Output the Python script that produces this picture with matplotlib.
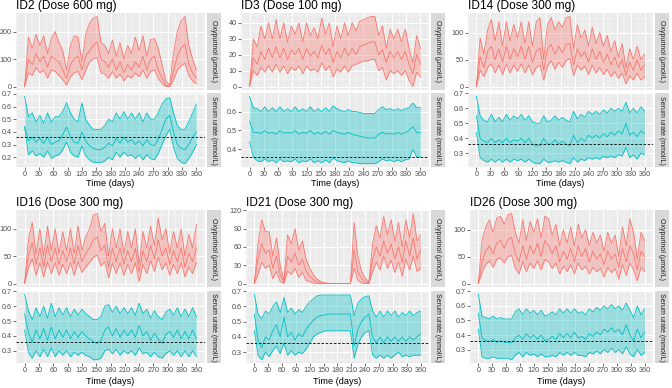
import numpy as np
import matplotlib.pyplot as plt
from matplotlib.ticker import MultipleLocator

plt.rcParams['font.family'] = ['Liberation Sans', 'DejaVu Sans']

# time grid (days)
days = list(range(0, 361, 8))

# ---- ID2 (600 mg) ----
id2_oxy_med = [0, 100, 80, 120, 90, 110, 70, 110, 100, 90,
               60, 30, 80, 100, 110, 60, 110, 130, 150, 162,
               100, 90, 70, 100, 60, 90, 50, 80, 60, 90,
               70, 110, 60, 100, 110, 60, 30, 5, 0, 55,
               110, 140, 155, 80, 50, 30]
id2_oxy_hi = [0, 180, 140, 190, 150, 185, 120, 175, 200, 160,
              130, 60, 150, 185, 180, 90, 190, 230, 250, 255,
              160, 150, 120, 170, 110, 160, 100, 150, 120, 180,
              130, 185, 110, 170, 175, 140, 80, 20, 5, 120,
              200, 240, 255, 150, 100, 60]
id2_oxy_lo = [0, 50, 40, 70, 50, 60, 30, 60, 55, 40,
              25, 5, 35, 50, 55, 25, 60, 90, 100, 105,
              50, 45, 30, 55, 30, 45, 20, 40, 30, 50,
              35, 60, 30, 55, 60, 30, 10, 0, 0, 25,
              60, 75, 85, 40, 20, 10]
id2_ur_med = [0.44, 0.33, 0.36, 0.32, 0.35, 0.31, 0.36, 0.30, 0.32, 0.33,
              0.38, 0.44, 0.36, 0.32, 0.31, 0.40, 0.33, 0.29, 0.27, 0.26,
              0.26, 0.28, 0.31, 0.29, 0.35, 0.31, 0.36, 0.32, 0.34, 0.30,
              0.33, 0.29, 0.34, 0.30, 0.29, 0.34, 0.42, 0.50, 0.53, 0.40,
              0.30, 0.27, 0.26, 0.30, 0.36, 0.40]
id2_ur_hi = [0.68, 0.52, 0.55, 0.48, 0.53, 0.47, 0.55, 0.48, 0.52, 0.52,
             0.56, 0.63, 0.55, 0.50, 0.48, 0.63, 0.50, 0.45, 0.42, 0.42,
             0.42, 0.45, 0.50, 0.48, 0.55, 0.50, 0.56, 0.50, 0.55, 0.50,
             0.55, 0.48, 0.55, 0.50, 0.50, 0.55, 0.62, 0.66, 0.67, 0.55,
             0.45, 0.42, 0.42, 0.48, 0.55, 0.62]
id2_ur_lo = [0.44, 0.22, 0.25, 0.21, 0.23, 0.20, 0.25, 0.19, 0.21, 0.22,
             0.26, 0.32, 0.24, 0.21, 0.20, 0.29, 0.21, 0.18, 0.16, 0.16,
             0.16, 0.17, 0.20, 0.18, 0.24, 0.20, 0.24, 0.21, 0.22, 0.19,
             0.22, 0.18, 0.22, 0.19, 0.18, 0.23, 0.30, 0.37, 0.42, 0.28,
             0.19, 0.16, 0.15, 0.19, 0.24, 0.30]

# ---- ID3 (100 mg) ----
id3_oxy_med = [0, 18, 14, 22, 17, 24, 18, 25, 18, 24,
               17, 23, 20, 24, 17, 24, 19, 22, 18, 26,
               20, 24, 15, 22, 18, 24, 19, 24, 20, 25,
               26, 27, 28, 28, 20, 23, 15, 22, 18, 22,
               17, 22, 14, 8, 20, 14]
id3_oxy_hi = [0, 30, 25, 38, 30, 40, 30, 42, 30, 40,
              28, 38, 33, 40, 28, 40, 32, 37, 30, 43,
              33, 40, 25, 38, 30, 40, 32, 40, 35, 41,
              42, 43, 44, 44, 32, 38, 24, 36, 30, 36,
              28, 36, 24, 15, 32, 24]
id3_oxy_lo = [0, 10, 7, 12, 9, 13, 9, 14, 9, 13,
              8, 12, 10, 13, 8, 13, 10, 11, 9, 15,
              10, 13, 6, 11, 9, 13, 9, 13, 14, 15,
              16, 16, 17, 17, 10, 12, 4, 10, 8, 10,
              7, 10, 4, 0, 9, 6]
id3_ur_med = [0.55, 0.49, 0.49, 0.485, 0.50, 0.485, 0.49, 0.48, 0.50, 0.485,
              0.49, 0.485, 0.50, 0.48, 0.49, 0.485, 0.50, 0.48, 0.49, 0.48,
              0.495, 0.48, 0.50, 0.49, 0.485, 0.48, 0.49, 0.48, 0.475, 0.47,
              0.465, 0.46, 0.46, 0.46, 0.48, 0.49, 0.48, 0.485, 0.48, 0.49,
              0.48, 0.49, 0.50, 0.52, 0.49, 0.49]
id3_ur_hi = [0.68, 0.62, 0.615, 0.60, 0.625, 0.60, 0.62, 0.60, 0.625, 0.60,
             0.615, 0.60, 0.625, 0.60, 0.615, 0.60, 0.625, 0.60, 0.615, 0.60,
             0.62, 0.60, 0.63, 0.615, 0.605, 0.60, 0.61, 0.60, 0.60, 0.595,
             0.59, 0.59, 0.59, 0.59, 0.61, 0.625, 0.61, 0.615, 0.605, 0.615,
             0.605, 0.615, 0.62, 0.645, 0.62, 0.62]
id3_ur_lo = [0.44, 0.36, 0.34, 0.335, 0.35, 0.335, 0.345, 0.33, 0.35, 0.335,
             0.34, 0.335, 0.35, 0.33, 0.34, 0.335, 0.35, 0.33, 0.34, 0.33,
             0.345, 0.33, 0.355, 0.34, 0.335, 0.33, 0.34, 0.33, 0.33, 0.325,
             0.325, 0.325, 0.325, 0.325, 0.335, 0.35, 0.34, 0.345, 0.335, 0.345,
             0.335, 0.345, 0.35, 0.40, 0.36, 0.36]

# ---- ID14 (300 mg) ----
id14_oxy_med = [0, 55, 35, 65, 75, 50, 70, 45, 75, 50,
                70, 55, 75, 50, 75, 45, 65, 72, 30, 70,
                78, 60, 75, 62, 78, 80, 40, 70, 55, 65,
                45, 70, 50, 65, 45, 60, 40, 55, 35, 50,
                20, 45, 30, 50, 30, 40]
id14_oxy_hi = [0, 90, 60, 105, 125, 85, 120, 75, 120, 85,
               115, 90, 120, 80, 120, 75, 120, 128, 50, 115,
               128, 105, 120, 110, 128, 130, 70, 115, 90, 105,
               75, 110, 80, 100, 75, 95, 65, 85, 55, 80,
               35, 70, 50, 75, 50, 60]
id14_oxy_lo = [0, 30, 18, 35, 42, 25, 40, 22, 42, 25,
               40, 28, 42, 25, 40, 22, 35, 40, 12, 38,
               48, 32, 45, 35, 48, 52, 20, 40, 30, 38,
               22, 40, 25, 35, 22, 32, 18, 28, 15, 25,
               5, 20, 12, 25, 12, 18]
id14_ur_med = [0.55, 0.40, 0.38, 0.37, 0.40, 0.37, 0.39, 0.37, 0.40, 0.37,
               0.39, 0.38, 0.40, 0.37, 0.40, 0.36, 0.35, 0.35, 0.40, 0.36,
               0.36, 0.39, 0.36, 0.38, 0.36, 0.35, 0.42, 0.37, 0.40, 0.38,
               0.42, 0.40, 0.42, 0.40, 0.43, 0.41, 0.44, 0.42, 0.45, 0.43,
               0.50, 0.42, 0.44, 0.41, 0.45, 0.43]
id14_ur_hi = [0.68, 0.55, 0.52, 0.51, 0.56, 0.51, 0.54, 0.51, 0.56, 0.52,
              0.55, 0.53, 0.56, 0.52, 0.55, 0.51, 0.50, 0.50, 0.55, 0.51,
              0.52, 0.55, 0.52, 0.54, 0.52, 0.51, 0.58, 0.53, 0.56, 0.54,
              0.58, 0.56, 0.58, 0.56, 0.59, 0.57, 0.60, 0.58, 0.60, 0.58,
              0.64, 0.57, 0.60, 0.57, 0.61, 0.58]
id14_ur_lo = [0.44, 0.27, 0.25, 0.24, 0.26, 0.24, 0.26, 0.24, 0.26, 0.24,
              0.26, 0.25, 0.26, 0.24, 0.26, 0.24, 0.23, 0.23, 0.26, 0.24,
              0.24, 0.25, 0.24, 0.25, 0.24, 0.23, 0.27, 0.24, 0.26, 0.25,
              0.27, 0.26, 0.27, 0.26, 0.28, 0.27, 0.28, 0.27, 0.29, 0.28,
              0.34, 0.27, 0.29, 0.26, 0.30, 0.29]

# ---- ID16 (300 mg) ----
id16_oxy_med = [0, 50, 75, 35, 65, 30, 70, 40, 65, 35,
                60, 40, 65, 35, 70, 40, 55, 65, 80, 85,
                60, 70, 30, 65, 40, 65, 35, 60, 40, 65,
                20, 60, 40, 70, 45, 80, 50, 65, 35, 60,
                40, 65, 30, 55, 40, 65]
id16_oxy_hi = [0, 80, 112, 55, 100, 50, 105, 60, 100, 55,
               95, 60, 100, 55, 105, 60, 85, 100, 125, 128,
               95, 110, 50, 100, 65, 100, 55, 95, 65, 100,
               35, 95, 65, 105, 70, 120, 80, 100, 55, 95,
               65, 100, 50, 90, 65, 108]
id16_oxy_lo = [0, 28, 45, 15, 38, 12, 40, 18, 38, 15,
               35, 18, 38, 15, 40, 20, 30, 38, 48, 52,
               32, 40, 10, 38, 18, 38, 15, 35, 18, 38,
               3, 35, 18, 42, 22, 48, 25, 38, 15, 35,
               18, 38, 12, 30, 18, 38]
id16_ur_med = [0.55, 0.42, 0.36, 0.44, 0.38, 0.45, 0.37, 0.46, 0.38, 0.44,
               0.39, 0.44, 0.38, 0.43, 0.39, 0.43, 0.40, 0.38, 0.36, 0.35,
               0.37, 0.44, 0.46, 0.40, 0.45, 0.39, 0.44, 0.40, 0.44, 0.39,
               0.47, 0.40, 0.43, 0.37, 0.42, 0.38, 0.35, 0.41, 0.43, 0.39,
               0.44, 0.38, 0.43, 0.38, 0.44, 0.38]
id16_ur_hi = [0.68, 0.57, 0.51, 0.59, 0.53, 0.60, 0.52, 0.62, 0.53, 0.59,
              0.54, 0.59, 0.53, 0.58, 0.54, 0.58, 0.55, 0.53, 0.51, 0.51,
              0.53, 0.60, 0.61, 0.56, 0.60, 0.55, 0.59, 0.55, 0.59, 0.54,
              0.62, 0.55, 0.58, 0.52, 0.57, 0.53, 0.51, 0.56, 0.58, 0.54,
              0.59, 0.53, 0.58, 0.53, 0.59, 0.53]
id16_ur_lo = [0.44, 0.29, 0.25, 0.30, 0.26, 0.31, 0.26, 0.32, 0.26, 0.30,
              0.27, 0.30, 0.26, 0.29, 0.27, 0.29, 0.27, 0.26, 0.24, 0.24,
              0.25, 0.30, 0.31, 0.28, 0.31, 0.27, 0.30, 0.28, 0.30, 0.27,
              0.32, 0.28, 0.29, 0.26, 0.29, 0.26, 0.25, 0.28, 0.30, 0.27,
              0.30, 0.26, 0.30, 0.26, 0.30, 0.26]

# ---- ID21 (300 mg) ----
id21_oxy_med = [0, 40, 65, 50, 55, 25, 45, 15, 2, 45,
                35, 50, 30, 40, 20, 12, 6, 3, 1, 0.5,
                0, 0, 0, 0, 0, 0, 0, 55, 20, 8,
                3, 1, 40, 60, 45, 70, 50, 65, 40, 60,
                35, 70, 45, 75, 40, 55]
id21_oxy_hi = [0, 65, 105, 85, 85, 45, 75, 30, 5, 80,
               65, 90, 55, 70, 40, 25, 14, 7, 3, 1,
               0.5, 0, 0, 0, 0, 0, 0, 100, 45, 20,
               8, 3, 65, 95, 75, 110, 80, 105, 70, 100,
               60, 105, 75, 115, 70, 80]
id21_oxy_lo = [0, 15, 35, 25, 30, 8, 20, 3, 0, 20,
               15, 25, 10, 18, 5, 3, 1, 0, 0, 0,
               0, 0, 0, 0, 0, 0, 0, 25, 5, 1,
               0, 0, 20, 35, 22, 45, 25, 38, 18, 35,
               12, 40, 22, 45, 20, 25]
id21_ur_med = [0.55, 0.38, 0.33, 0.40, 0.38, 0.44, 0.48, 0.40, 0.53, 0.40,
               0.43, 0.38, 0.42, 0.40, 0.45, 0.48, 0.51, 0.53, 0.54, 0.545,
               0.55, 0.55, 0.55, 0.55, 0.55, 0.55, 0.55, 0.34, 0.45, 0.50,
               0.53, 0.55, 0.40, 0.36, 0.40, 0.36, 0.40, 0.37, 0.40, 0.37,
               0.40, 0.37, 0.40, 0.38, 0.40, 0.42]
id21_ur_hi = [0.68, 0.55, 0.52, 0.57, 0.55, 0.60, 0.63, 0.56, 0.66, 0.56,
              0.59, 0.55, 0.58, 0.56, 0.60, 0.63, 0.65, 0.67, 0.675, 0.675,
              0.675, 0.675, 0.675, 0.675, 0.675, 0.675, 0.675, 0.54, 0.62, 0.65,
              0.665, 0.67, 0.57, 0.53, 0.57, 0.53, 0.57, 0.54, 0.57, 0.53,
              0.56, 0.54, 0.57, 0.54, 0.56, 0.57]
id21_ur_lo = [0.44, 0.28, 0.25, 0.30, 0.27, 0.31, 0.34, 0.29, 0.36, 0.28,
              0.31, 0.28, 0.30, 0.29, 0.32, 0.36, 0.40, 0.42, 0.43, 0.44,
              0.44, 0.44, 0.44, 0.44, 0.44, 0.44, 0.44, 0.26, 0.35, 0.40,
              0.43, 0.44, 0.28, 0.26, 0.28, 0.26, 0.28, 0.26, 0.28, 0.30,
              0.27, 0.28, 0.27, 0.28, 0.28, 0.28]

# ---- ID26 (300 mg) ----
id26_oxy_med = [0, 40, 60, 70, 55, 75, 80, 65, 82, 85,
                55, 40, 70, 45, 70, 55, 75, 50, 80, 70,
                55, 70, 40, 60, 45, 65, 40, 70, 50, 65,
                40, 60, 45, 55, 35, 60, 45, 55, 30, 65,
                40, 70, 55, 25, 60, 50]
id26_oxy_hi = [0, 80, 105, 118, 95, 122, 125, 110, 128, 130,
               95, 75, 118, 80, 115, 95, 120, 85, 125, 120,
               90, 110, 70, 100, 75, 105, 70, 110, 85, 100,
               70, 95, 75, 90, 60, 95, 75, 90, 50, 105,
               70, 120, 95, 45, 95, 80]
id26_oxy_lo = [0, 20, 35, 42, 30, 45, 48, 38, 50, 52,
               28, 18, 40, 22, 38, 28, 42, 25, 45, 40,
               28, 38, 18, 32, 22, 35, 18, 38, 25, 32,
               18, 30, 22, 28, 12, 30, 20, 28, 8, 35,
               15, 38, 25, 5, 30, 22]
id26_ur_med = [0.55, 0.38, 0.36, 0.355, 0.37, 0.35, 0.36, 0.35, 0.35, 0.345,
               0.38, 0.40, 0.37, 0.41, 0.38, 0.40, 0.37, 0.40, 0.36, 0.37,
               0.39, 0.37, 0.41, 0.38, 0.41, 0.38, 0.42, 0.38, 0.39, 0.37,
               0.41, 0.39, 0.42, 0.40, 0.44, 0.42, 0.45, 0.42, 0.44, 0.40,
               0.47, 0.40, 0.36, 0.44, 0.38, 0.42]
id26_ur_hi = [0.68, 0.53, 0.52, 0.51, 0.53, 0.51, 0.52, 0.51, 0.51, 0.51,
              0.56, 0.58, 0.54, 0.58, 0.55, 0.57, 0.54, 0.57, 0.53, 0.54,
              0.56, 0.54, 0.58, 0.55, 0.58, 0.55, 0.58, 0.55, 0.56, 0.54,
              0.58, 0.56, 0.59, 0.57, 0.60, 0.58, 0.61, 0.58, 0.60, 0.57,
              0.62, 0.57, 0.52, 0.60, 0.54, 0.58]
id26_ur_lo = [0.44, 0.25, 0.24, 0.24, 0.25, 0.24, 0.24, 0.24, 0.24, 0.23,
              0.26, 0.28, 0.25, 0.28, 0.26, 0.27, 0.25, 0.27, 0.25, 0.25,
              0.26, 0.25, 0.28, 0.26, 0.28, 0.26, 0.28, 0.26, 0.26, 0.25,
              0.28, 0.27, 0.29, 0.27, 0.30, 0.28, 0.31, 0.28, 0.30, 0.27,
              0.32, 0.27, 0.25, 0.30, 0.26, 0.28]

titles = ["ID2 (Dose 600 mg)", "ID3 (Dose 100 mg)", "ID14 (Dose 300 mg)",
          "ID16 (Dose 300 mg)", "ID21 (Dose 300 mg)", "ID26 (Dose 300 mg)"]
oxy_series = [(id2_oxy_lo, id2_oxy_med, id2_oxy_hi), (id3_oxy_lo, id3_oxy_med, id3_oxy_hi),
              (id14_oxy_lo, id14_oxy_med, id14_oxy_hi), (id16_oxy_lo, id16_oxy_med, id16_oxy_hi),
              (id21_oxy_lo, id21_oxy_med, id21_oxy_hi), (id26_oxy_lo, id26_oxy_med, id26_oxy_hi)]
ur_series = [(id2_ur_lo, id2_ur_med, id2_ur_hi), (id3_ur_lo, id3_ur_med, id3_ur_hi),
             (id14_ur_lo, id14_ur_med, id14_ur_hi), (id16_ur_lo, id16_ur_med, id16_ur_hi),
             (id21_ur_lo, id21_ur_med, id21_ur_hi), (id26_ur_lo, id26_ur_med, id26_ur_hi)]
oxy_step = [100, 10, 50, 50, 30, 50]
ur_step = [0.1, 0.1, 0.1, 0.1, 0.1, 0.1]
urate_target = 0.36

RED = '#F8766D'
CYAN = '#00BFC4'
W, H = 672, 388

fig = plt.figure(figsize=(W / 100, H / 100), dpi=100)


def box(x0, y0, x1, y1):
    return [x0 / W, 1 - y1 / H, (x1 - x0) / W, (y1 - y0) / H]


def style(ax, step, lims):
    ax.set_facecolor('#EBEBEB')
    for s in ax.spines.values():
        s.set_visible(False)
    ax.set_xlim(-18, 378)
    ax.set_ylim(*lims)
    ax.xaxis.set_major_locator(MultipleLocator(30))
    ax.xaxis.set_minor_locator(MultipleLocator(15))
    ax.yaxis.set_major_locator(MultipleLocator(step))
    ax.yaxis.set_minor_locator(MultipleLocator(step / 2))
    ax.grid(which='major', color='white', lw=0.7)
    ax.grid(which='minor', color='white', lw=0.35)
    ax.set_axisbelow(True)
    ax.tick_params(which='minor', length=0)
    ax.tick_params(which='major', length=2, width=0.5, color='#333333',
                   labelsize=5.2, labelcolor='#4D4D4D', pad=1)


def ribbon(ax, lo, med, hi, color):
    ax.fill_between(days, lo, hi, color=color, alpha=0.35, lw=0)
    for s in (lo, med, hi):
        ax.plot(days, s, color=color, lw=0.6)


def strip(rect, label):
    s = fig.add_axes(rect)
    s.set_facecolor('#D9D9D9')
    s.set_xticks([])
    s.set_yticks([])
    for sp in s.spines.values():
        sp.set_visible(False)
    s.text(0.5, 0.5, label, rotation=270, ha='center', va='center',
           fontsize=5, color='#1A1A1A', transform=s.transAxes)


lefts = [16, 17, 20, 16, 22, 22]
rows = [(13, 90, 93, 167, 5.5, 184), (210, 287, 291, 363, 203, 382)]

for i in range(6):
    r, c = divmod(i, 3)
    cx = c * 224
    t0, t1, b0, b1, ty, ly = rows[r]
    x0 = cx + lefts[i]
    x1 = cx + 205

    # oxypurinol panel
    lo, med, hi = oxy_series[i]
    ax1 = fig.add_axes(box(x0, t0, x1, t1))
    ymin, ymax = min(lo), max(hi)
    pad = 0.05 * (ymax - ymin)
    ribbon(ax1, lo, med, hi, RED)
    style(ax1, oxy_step[i], (ymin - pad, ymax + pad))
    ax1.tick_params(axis='x', which='both', bottom=False, labelbottom=False)
    strip(box(x1 + 1.5, t0, cx + 221, t1), 'Oxypurinol (µmol/L)')

    # serum urate panel
    lo, med, hi = ur_series[i]
    ax2 = fig.add_axes(box(x0, b0, x1, b1))
    ymin, ymax = min(min(lo), urate_target), max(hi)
    pad = 0.05 * (ymax - ymin)
    ribbon(ax2, lo, med, hi, CYAN)
    ax2.axhline(urate_target, color='black', lw=0.6, ls=(0, (3, 2)))
    style(ax2, ur_step[i], (ymin - pad, ymax + pad))
    strip(box(x1 + 1.5, b0, cx + 221, b1), 'Serum urate (mmol/L)')

    fig.text(x0 / W, 1 - ty / H, titles[i], fontsize=8.6, ha='left',
             va='center', color='black')
    fig.text((x0 + x1) / 2 / W, 1 - ly / H, 'Time (days)', fontsize=6.6,
             ha='center', va='center', color='black')

fig.savefig('out.png', dpi=100, facecolor='white')
